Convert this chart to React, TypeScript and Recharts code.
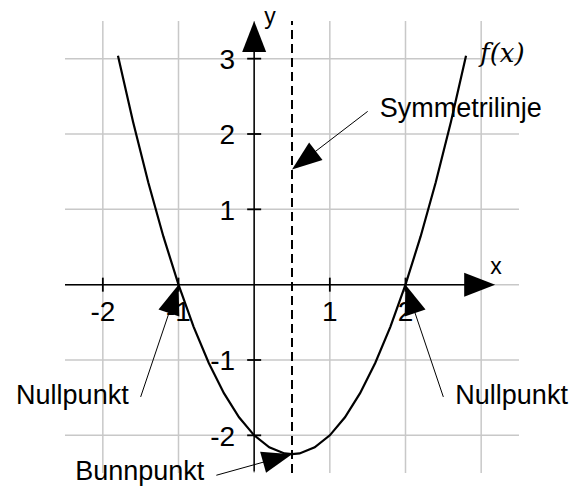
import React from 'react';
import {
  LineChart,
  Line,
  XAxis,
  YAxis,
  CartesianGrid,
  ReferenceLine,
  ReferenceDot,
} from 'recharts';

// f(x) sample points
const curveX = [-1.8, -1.6, -1.4, -1.2, -1.0, -0.8, -0.6, -0.4, -0.2, 0, 0.2, 0.4, 0.5, 0.6, 0.8, 1.0, 1.2, 1.4, 1.6, 1.8, 2.0, 2.2, 2.4, 2.6, 2.8];
const curveY = [3.04, 2.16, 1.36, 0.64, 0, -0.56, -1.04, -1.44, -1.76, -2, -2.16, -2.24, -2.25, -2.24, -2.16, -2, -1.76, -1.44, -1.04, -0.56, 0, 0.64, 1.36, 2.16, 3.04];

const gridValues = [-2, -1, 0, 1, 2, 3];
const xTicks = [-2, -1, 1, 2];
const yTicks = [-2, -1, 1, 2, 3];
const symmetryX = 0.5;
const curveName = 'f(x)';

// annotations: label, arrow start (tail) and arrow end (tip)
const noteLabels = ['Symmetrilinje', 'Nullpunkt', 'Nullpunkt', 'Bunnpunkt'];
const noteFrom = [[1.5, 2.3], [-1.5, -1.49], [2.5, -1.49], [-0.5, -2.53]];
const noteTo = [[0.5, 1.53], [-1, 0], [2, 0], [0.5, -2.25]];

const data = curveX.map((x, i) => ({ x, y: curveY[i] }));

const FONT = '"Liberation Sans", Arial, sans-serif';

function arrow(len: number, half: number, width: number, text?: string, tx = 0, ty = 0, fontSize = 27) {
  return (p: any) => {
    const { x1, y1, x2, y2 } = p;
    const dx = x2 - x1;
    const dy = y2 - y1;
    const d = Math.hypot(dx, dy) || 1;
    const ux = dx / d;
    const uy = dy / d;
    const bx = x2 - ux * len;
    const by = y2 - uy * len;
    const pts = `${x2},${y2} ${bx - uy * half},${by + ux * half} ${bx + uy * half},${by - ux * half}`;
    return (
      <g>
        <line x1={x1} y1={y1} x2={bx + ux * 2} y2={by + uy * 2} stroke="#000" strokeWidth={width} />
        <polygon points={pts} fill="#000" />
        {text && (
          <text x={x2 + tx} y={y2 + ty} fontFamily={FONT} fontSize={fontSize} fill="#000">
            {text}
          </text>
        )}
      </g>
    );
  };
}

function noteShape(label: string, side: 'left' | 'right', dy: number) {
  return (p: any) => {
    const base = arrow(30, 11, 1)(p);
    return (
      <g>
        {base}
        <text
          x={p.x1 + (side === 'left' ? -12 : 12)}
          y={p.y1 + dy}
          textAnchor={side === 'left' ? 'end' : 'start'}
          fontFamily={FONT}
          fontSize={27}
          fill="#000"
        >
          {label}
        </text>
      </g>
    );
  };
}

const noteSide: ('left' | 'right')[] = ['right', 'left', 'right', 'left'];
const noteDy = [6, 7, 7, 5];

export default function App() {
  return (
    <div style={{ position: 'absolute', left: 0, top: 0, background: '#fff' }}>
      <LineChart
        width={575}
        height={487}
        data={data}
        margin={{ top: 21, right: 56, left: 65, bottom: 14 }}
      >
        <XAxis type="number" dataKey="x" domain={[-2.5, 3.5]} ticks={gridValues} allowDataOverflow hide />
        <YAxis type="number" domain={[-2.5, 3.5]} ticks={gridValues} allowDataOverflow hide />
        <CartesianGrid
          stroke="#c8c8c8"
          strokeWidth={1.5}
          horizontalValues={gridValues}
          verticalValues={gridValues}
        />
        <ReferenceLine x={symmetryX} stroke="#000" strokeWidth={2} strokeDasharray="9 5" ifOverflow="visible" />
        {/* axes with arrowheads */}
        <ReferenceLine
          segment={[{ x: -2.5, y: 0 }, { x: 3.185, y: 0 }]}
          ifOverflow="visible"
          shape={arrow(31, 12, 1.5, 'x', -5, -10.7, 23)}
        />
        <ReferenceLine
          segment={[{ x: 0, y: -2.48 }, { x: 0, y: 3.5 }]}
          ifOverflow="visible"
          shape={arrow(31, 12, 1.5, 'y', 10, 3, 23)}
        />
        {xTicks.map((v) => (
          <ReferenceDot
            key={`xt${v}`}
            x={v}
            y={0}
            r={1}
            ifOverflow="visible"
            shape={(p: any) => (
              <g>
                <line x1={p.cx} y1={p.cy - 7} x2={p.cx} y2={p.cy + 7} stroke="#000" strokeWidth={1.8} />
                <text x={p.cx} y={p.cy + 36.5} textAnchor="middle" fontFamily={FONT} fontSize={28} fill="#000">
                  {String(v)}
                </text>
              </g>
            )}
          />
        ))}
        {yTicks.map((v) => (
          <ReferenceDot
            key={`yt${v}`}
            x={0}
            y={v}
            r={1}
            ifOverflow="visible"
            shape={(p: any) => (
              <g>
                <line x1={p.cx - 7} y1={p.cy} x2={p.cx + 7} y2={p.cy} stroke="#000" strokeWidth={1.8} />
                <text x={p.cx - 19} y={p.cy + 10.4} textAnchor="end" fontFamily={FONT} fontSize={28} fill="#000">
                  {String(v)}
                </text>
              </g>
            )}
          />
        ))}
        <Line
          type="linear"
          dataKey="y"
          stroke="#000"
          strokeWidth={2.2}
          dot={false}
          activeDot={false}
          isAnimationActive={false}
        />
        <ReferenceDot
          x={curveX[curveX.length - 1]}
          y={curveY[curveY.length - 1]}
          r={1}
          ifOverflow="visible"
          shape={(p: any) => (
            <text x={p.cx + 14} y={p.cy + 6} fontFamily='"DejaVu Serif", serif' fontStyle="italic" fontSize={26} fill="#000">
              {curveName}
            </text>
          )}
        />
        {noteLabels.map((label, i) => (
          <ReferenceLine
            key={`n${i}`}
            segment={[
              { x: noteFrom[i][0], y: noteFrom[i][1] },
              { x: noteTo[i][0], y: noteTo[i][1] },
            ]}
            ifOverflow="visible"
            shape={noteShape(label, noteSide[i], noteDy[i])}
          />
        ))}
      </LineChart>
    </div>
  );
}
